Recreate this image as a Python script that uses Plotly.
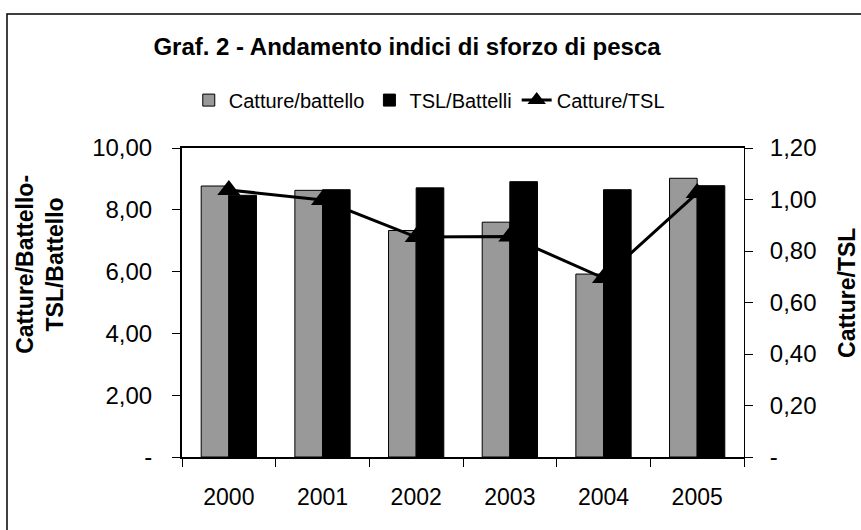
#!/usr/bin/env python
# coding: utf-8

# Graf. 2 - Andamento indici di sforzo di pesca

import plotly.graph_objects as go

# Dati
anni = ["2000", "2001", "2002", "2003", "2004", "2005"]
catture_battello = [8.77, 8.63, 7.33, 7.60, 5.92, 9.02]
tsl_battelli = [8.47, 8.65, 8.71, 8.91, 8.65, 8.78]
catture_tsl = [1.037, 0.998, 0.854, 0.856, 0.695, 1.025]

# Etichette degli assi
tick_sx_val = [0, 2, 4, 6, 8, 10]
tick_sx_txt = ["-", "2,00", "4,00", "6,00", "8,00", "10,00"]
tick_dx_val = [0, 0.2, 0.4, 0.6, 0.8, 1.0, 1.2]
tick_dx_txt = ["-", "0,20", "0,40", "0,60", "0,80", "1,00", "1,20"]

FONT = "Liberation Sans, Arial, sans-serif"

fig = go.Figure()

fig.add_trace(
    go.Bar(
        x=anni,
        y=catture_battello,
        name="Catture/battello",
        marker=dict(color="#999999", line=dict(color="black", width=1)),
    )
)
fig.add_trace(
    go.Bar(
        x=anni,
        y=tsl_battelli,
        name="TSL/Battelli",
        marker=dict(color="black", line=dict(color="black", width=1)),
    )
)
fig.add_trace(
    go.Scatter(
        x=anni,
        y=catture_tsl,
        name="Catture/TSL",
        yaxis="y2",
        mode="lines+markers",
        line=dict(color="black", width=3),
        marker=dict(symbol="triangle-up", size=20, color="black"),
    )
)

fig.update_layout(
    width=861,
    height=530,
    margin=dict(l=182, r=117, t=148, b=73),
    paper_bgcolor="white",
    plot_bgcolor="white",
    font=dict(family=FONT, color="black", size=20),
    barmode="group",
    bargap=0.41,
    bargroupgap=0,
    title=dict(
        text="<b>Graf. 2 - Andamento indici di sforzo di pesca</b>",
        x=0.4727,
        y=0.9113,
        xanchor="center",
        yanchor="middle",
        font=dict(size=24, family=FONT),
    ),
    legend=dict(
        orientation="h",
        x=0.44,
        xanchor="center",
        y=1.155,
        yanchor="middle",
        font=dict(size=20),
        itemwidth=30,
        tracegroupgap=0,
        bgcolor="rgba(0,0,0,0)",
    ),
    showlegend=True,
)

# Asse x (categorie), tacche sui bordi
fig.update_xaxes(
    type="category",
    showline=True,
    linecolor="black",
    linewidth=2,
    mirror=True,
    ticks="outside",
    tickson="boundaries",
    ticklen=8,
    tickcolor="black",
    showgrid=False,
    tickfont=dict(size=23),
    ticklabelstandoff=18,
)

# Assi y
fig.update_layout(
    yaxis=dict(
        range=[0, 10],
        tickvals=tick_sx_val,
        ticktext=tick_sx_txt,
        showline=True,
        linecolor="black",
        linewidth=2,
        ticks="outside",
        ticklen=8,
        tickcolor="black",
        showgrid=False,
        zeroline=False,
        tickfont=dict(size=24),
        ticklabelstandoff=15,
    ),
    yaxis2=dict(
        overlaying="y",
        side="right",
        range=[0, 1.2],
        tickvals=tick_dx_val,
        ticktext=tick_dx_txt,
        showline=True,
        linecolor="black",
        linewidth=1,
        ticks="outside",
        ticklen=8,
        tickcolor="black",
        showgrid=False,
        zeroline=False,
        tickfont=dict(size=24),
        ticklabelstandoff=12,
    ),
    # Assi di supporto per le tacche interne (tacche incrociate)
    xaxis3=dict(
        overlaying="x",
        range=[-0.5, 5.5],
        tickvals=[i - 0.5 for i in range(len(anni) + 1)],
        ticks="inside",
        ticklen=8,
        tickcolor="black",
        showticklabels=False,
        showgrid=False,
        zeroline=False,
        showline=False,
    ),
    yaxis3=dict(
        overlaying="y",
        range=[0, 10],
        tickvals=tick_sx_val,
        ticks="inside",
        ticklen=8,
        tickcolor="black",
        showticklabels=False,
        showgrid=False,
        zeroline=False,
        showline=False,
    ),
    yaxis4=dict(
        overlaying="y",
        side="right",
        range=[0, 1.2],
        tickvals=tick_dx_val,
        ticks="inside",
        ticklen=8,
        tickcolor="black",
        showticklabels=False,
        showgrid=False,
        zeroline=False,
        showline=False,
    ),
)

# Titoli degli assi
fig.add_annotation(
    text="<b>Catture/Battello-<br>TSL/Battello</b>",
    xref="paper", yref="paper",
    x=-0.2527, y=0.625,
    xanchor="center", yanchor="middle",
    showarrow=False,
    textangle=-90,
    font=dict(size=23),
    align="center",
)
fig.add_annotation(
    text="<b>Catture/TSL</b>",
    xref="paper", yref="paper",
    x=1.1833, y=0.531,
    xanchor="center", yanchor="middle",
    showarrow=False,
    textangle=-90,
    font=dict(size=23),
)

# Cornice del grafico
fig.add_shape(
    type="rect",
    xref="paper", yref="paper",
    x0=-0.3114, x1=1.3,
    y0=-0.3, y1=1.4337,
    line=dict(color="black", width=1.5),
    fillcolor="rgba(0,0,0,0)",
    layer="below",
)

# Toglie il margine predefinito della pagina e la barra degli strumenti
fig.write_html(
    "out.html",
    config={"displayModeBar": False},
    post_script="document.body.style.margin = '0';",
)
